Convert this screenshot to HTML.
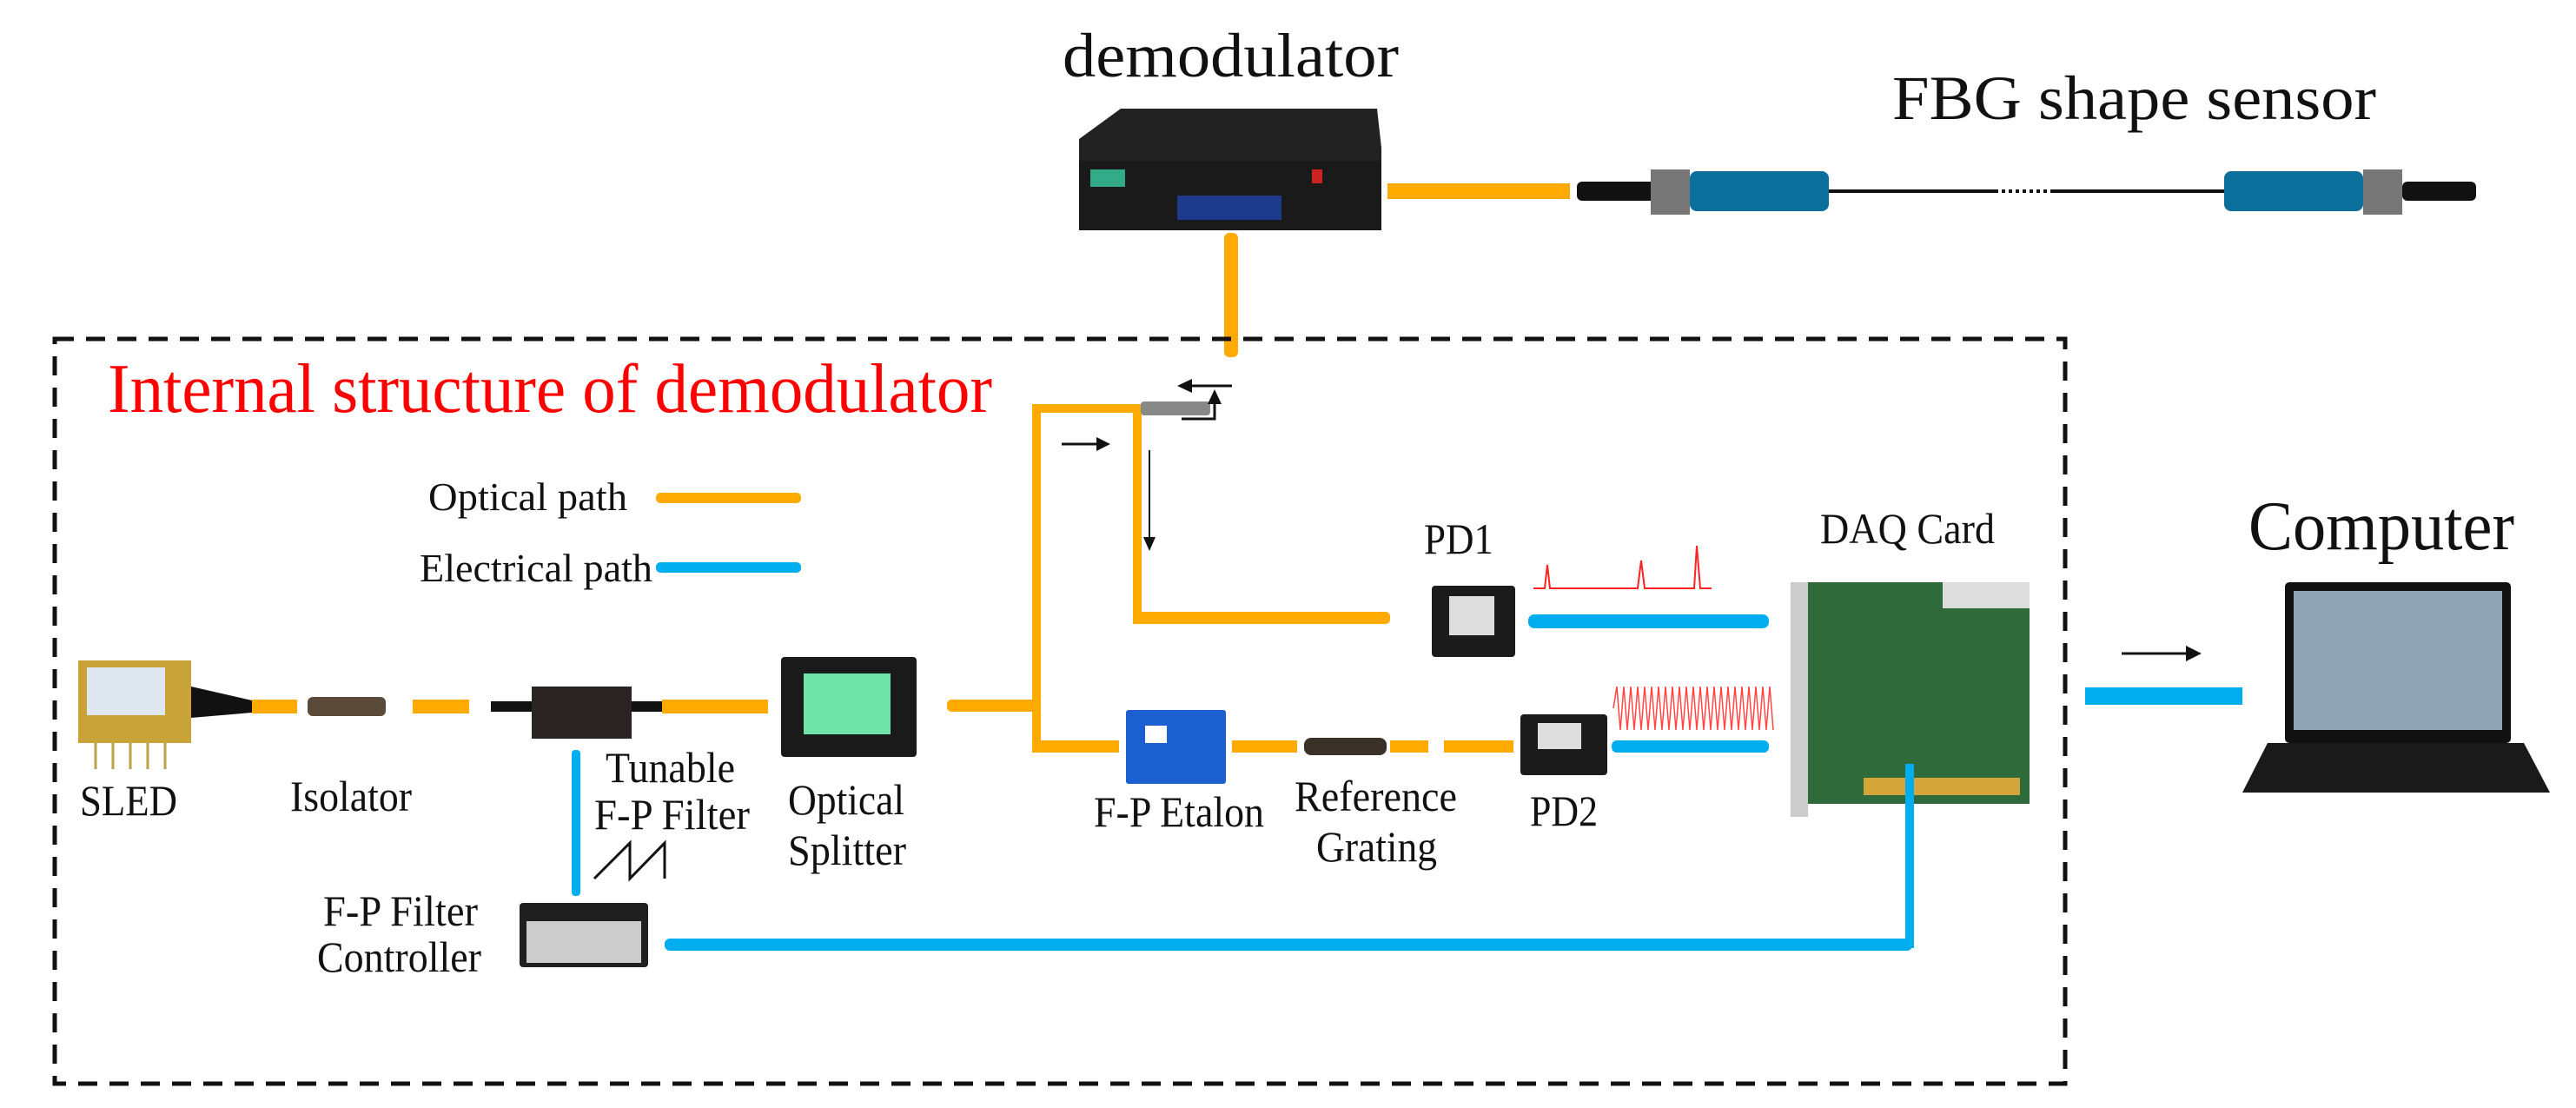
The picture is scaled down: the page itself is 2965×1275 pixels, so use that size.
<!DOCTYPE html>
<html><head><meta charset="utf-8"><style>
html,body{margin:0;padding:0;background:#fff;}
svg{display:block;}
text{font-family:"Liberation Serif",serif;fill:#111;}
</style></head><body>
<svg width="2965" height="1275" viewBox="0 0 2965 1275" xmlns="http://www.w3.org/2000/svg">
<!-- top titles -->
<text x="1223" y="88" font-size="72" textLength="387" lengthAdjust="spacingAndGlyphs">demodulator</text>
<text x="2178" y="137" font-size="72" textLength="557" lengthAdjust="spacingAndGlyphs">FBG shape sensor</text>
<!-- demodulator device -->
<polygon points="1242,160 1290,125 1585,125 1590,170 1590,265 1242,265" fill="#222"/>
<rect x="1242" y="185" width="348" height="80" fill="#1a1a1a"/>
<rect x="1255" y="195" width="40" height="20" fill="#3a8"/>
<rect x="1355" y="225" width="120" height="28" fill="#1e3a8c"/>
<rect x="1510" y="195" width="12" height="16" fill="#c22"/>
<!-- orange to sensor -->
<rect x="1597" y="211" width="210" height="18" fill="#ffaa00"/>
<!-- fiber sensor -->
<line x1="1815" y1="220" x2="2845" y2="220" stroke="#111" stroke-width="4"/>
<rect x="1815" y="209" width="90" height="22" rx="6" fill="#111"/>
<rect x="1900" y="195" width="45" height="52" fill="#777"/>
<rect x="1945" y="197" width="160" height="46" rx="8" fill="#0a6f9a"/>
<line x1="2300" y1="220" x2="2360" y2="220" stroke="#fff" stroke-width="4" stroke-dasharray="4,4"/>
<rect x="2560" y="197" width="160" height="46" rx="8" fill="#0a6f9a"/>
<rect x="2720" y="195" width="45" height="52" fill="#777"/>
<rect x="2765" y="209" width="85" height="22" rx="6" fill="#111"/>
<!-- vertical orange down -->
<rect x="1409" y="268" width="16" height="143" rx="6" fill="#ffaa00"/>
<!-- dashed rect -->
<rect x="63" y="390" width="2314" height="857" fill="none" stroke="#111" stroke-width="5" stroke-dasharray="22,14"/>
<text x="124" y="474" font-size="80" style="fill:#f00" textLength="1018" lengthAdjust="spacingAndGlyphs">Internal structure of demodulator</text>
<!-- legend -->
<text x="493" y="587" font-size="46" textLength="229" lengthAdjust="spacingAndGlyphs">Optical path</text>
<rect x="755" y="567" width="167" height="12" rx="5" fill="#ffaa00"/>
<text x="483" y="669" font-size="46" textLength="268" lengthAdjust="spacingAndGlyphs">Electrical path</text>
<rect x="755" y="647" width="167" height="12" rx="5" fill="#00aeef"/>
<!-- circulator region -->
<rect x="1188" y="465" width="10" height="398" fill="#ffaa00"/>
<rect x="1188" y="465" width="125" height="10" fill="#ffaa00"/>
<rect x="1304" y="470" width="10" height="248" fill="#ffaa00"/>
<rect x="1304" y="704" width="296" height="14" rx="5" fill="#ffaa00"/>
<rect x="1313" y="462" width="80" height="16" rx="4" fill="#888"/>
<line x1="1418" y1="444" x2="1362" y2="444" stroke="#111" stroke-width="3"/>
<polygon points="1355,444 1372,436 1372,452" fill="#111"/>
<polyline points="1360,482 1398,482 1398,458" fill="none" stroke="#111" stroke-width="3"/>
<polygon points="1398,448 1390,465 1406,465" fill="#111"/>
<line x1="1222" y1="511" x2="1268" y2="511" stroke="#111" stroke-width="3"/>
<polygon points="1278,511 1262,503 1262,519" fill="#111"/>
<line x1="1323" y1="518" x2="1323" y2="620" stroke="#111" stroke-width="2"/>
<polygon points="1323,634 1316,618 1330,618" fill="#111"/>
<!-- PD1 -->
<text x="1639" y="637" font-size="50" textLength="80" lengthAdjust="spacingAndGlyphs">PD1</text>
<rect x="1648" y="674" width="96" height="82" rx="4" fill="#1b1b1b"/>
<rect x="1668" y="686" width="52" height="45" fill="#ddd"/>
<polyline points="1765,677 1778,677 1781,650 1784,677 1885,677 1889,645 1893,677 1950,677 1953,628 1957,677 1970,677" fill="none" stroke="#f22" stroke-width="2"/>
<rect x="1759" y="707" width="277" height="16" rx="7" fill="#00aeef"/>
<!-- DAQ -->
<text x="2095" y="625" font-size="50" textLength="201" lengthAdjust="spacingAndGlyphs">DAQ Card</text>
<rect x="2061" y="670" width="275" height="255" fill="#2f6b3a"/>
<rect x="2061" y="670" width="20" height="270" fill="#ccc"/>
<rect x="2236" y="670" width="100" height="30" fill="#ddd"/>
<rect x="2145" y="895" width="180" height="20" fill="#d4a63a"/>
<!-- computer -->
<text x="2588" y="632" font-size="80" textLength="306" lengthAdjust="spacingAndGlyphs">Computer</text>
<line x1="2442" y1="752" x2="2522" y2="752" stroke="#111" stroke-width="3"/>
<polygon points="2534,752 2516,743 2516,761" fill="#111"/>
<rect x="2400" y="791" width="181" height="20" fill="#00aeef"/>
<rect x="2630" y="670" width="260" height="185" rx="5" fill="#111"/>
<rect x="2640" y="680" width="240" height="160" fill="#8fa3b3"/>
<polygon points="2610,855 2905,855 2935,912 2581,912" fill="#1a1a1a"/>
<!-- main line -->
<rect x="90" y="760" width="130" height="95" fill="#c9a33a"/>
<rect x="100" y="768" width="90" height="55" fill="#dfe7f0"/>
<g stroke="#b8a24a" stroke-width="3"><line x1="110" y1="855" x2="110" y2="885"/><line x1="130" y1="855" x2="130" y2="885"/><line x1="150" y1="855" x2="150" y2="885"/><line x1="170" y1="855" x2="170" y2="885"/><line x1="190" y1="855" x2="190" y2="885"/></g>
<polygon points="220,790 290,806 290,820 220,826" fill="#111"/>
<text x="92" y="938" font-size="50" textLength="112" lengthAdjust="spacingAndGlyphs">SLED</text>
<rect x="290" y="805" width="52" height="16" fill="#ffaa00"/>
<rect x="354" y="802" width="90" height="22" rx="6" fill="#5a4a3a"/>
<rect x="475" y="805" width="65" height="16" fill="#ffaa00"/>
<text x="334" y="933" font-size="50" textLength="140" lengthAdjust="spacingAndGlyphs">Isolator</text>
<rect x="612" y="790" width="115" height="60" fill="#2a2424"/>
<rect x="565" y="807" width="47" height="12" fill="#111"/>
<rect x="727" y="807" width="35" height="12" fill="#111"/>
<rect x="762" y="805" width="122" height="16" fill="#ffaa00"/>
<rect x="658" y="863" width="10" height="168" rx="4" fill="#00aeef"/>
<text x="697" y="900" font-size="50" textLength="149" lengthAdjust="spacingAndGlyphs">Tunable</text>
<text x="684" y="954" font-size="50" textLength="179" lengthAdjust="spacingAndGlyphs">F-P Filter</text>
<polyline points="684,1011 725,970 725,1011 765,970 765,1011" fill="none" stroke="#111" stroke-width="3"/>
<rect x="899" y="756" width="156" height="115" rx="4" fill="#1a1a1a"/>
<rect x="925" y="775" width="100" height="70" fill="#6fe3a8"/>
<text x="907" y="937" font-size="50" textLength="134" lengthAdjust="spacingAndGlyphs">Optical</text>
<text x="907" y="995" font-size="50" textLength="136" lengthAdjust="spacingAndGlyphs">Splitter</text>
<rect x="1090" y="805" width="102" height="14" rx="5" fill="#ffaa00"/>
<text x="372" y="1065" font-size="50" textLength="178" lengthAdjust="spacingAndGlyphs">F-P Filter</text>
<text x="365" y="1118" font-size="50" textLength="189" lengthAdjust="spacingAndGlyphs">Controller</text>
<rect x="598" y="1039" width="148" height="74" rx="4" fill="#1f1f1f"/>
<rect x="606" y="1060" width="132" height="48" fill="#ccc"/>
<rect x="765" y="1080" width="1436" height="14" rx="6" fill="#00aeef"/>
<rect x="2193" y="879" width="10" height="212" fill="#00aeef"/>
<!-- lower branch -->
<rect x="1188" y="852" width="100" height="14" fill="#ffaa00"/>
<rect x="1296" y="817" width="115" height="85" rx="3" fill="#1b5fd0"/>
<rect x="1318" y="835" width="25" height="20" fill="#fff"/>
<text x="1259" y="951" font-size="50" textLength="196" lengthAdjust="spacingAndGlyphs">F-P Etalon</text>
<rect x="1418" y="852" width="75" height="14" fill="#ffaa00"/>
<rect x="1501" y="849" width="95" height="20" rx="8" fill="#3a3228"/>
<rect x="1600" y="852" width="44" height="14" fill="#ffaa00"/>
<rect x="1662" y="852" width="80" height="14" fill="#ffaa00"/>
<text x="1490" y="933" font-size="50" textLength="187" lengthAdjust="spacingAndGlyphs">Reference</text>
<text x="1515" y="991" font-size="50" textLength="139" lengthAdjust="spacingAndGlyphs">Grating</text>
<rect x="1750" y="822" width="100" height="70" rx="4" fill="#1b1b1b"/>
<rect x="1770" y="832" width="50" height="30" fill="#ddd"/>
<text x="1761" y="950" font-size="50" textLength="78" lengthAdjust="spacingAndGlyphs">PD2</text>
<path d="M1857,815 l4,-25 l4,50 l4,-50 l4,50 l4,-50 l4,50 l4,-50 l4,50 l4,-50 l4,50 l4,-50 l4,50 l4,-50 l4,50 l4,-50 l4,50 l4,-50 l4,50 l4,-50 l4,50 l4,-50 l4,50 l4,-50 l4,50 l4,-50 l4,50 l4,-50 l4,50 l4,-50 l4,50 l4,-50 l4,50 l4,-50 l4,50 l4,-50 l4,50 l4,-50 l4,50 l4,-50 l4,50 l4,-50 l4,50 l4,-50 l4,50 l4,-50 l4,50" fill="none" stroke="#f44" stroke-width="1.5"/>
<rect x="1855" y="852" width="181" height="14" rx="6" fill="#00aeef"/>
</svg>
</body></html>
